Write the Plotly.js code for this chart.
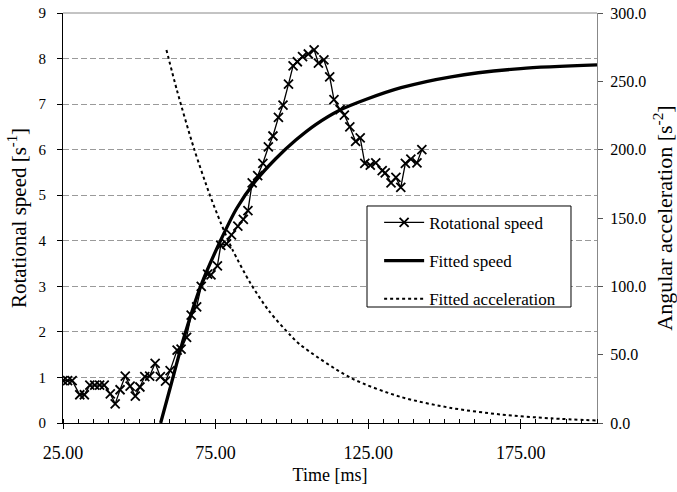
<!DOCTYPE html>
<html>
<head>
<meta charset="utf-8">
<script src="https://cdn.plot.ly/plotly-3.0.1.min.js"></script>
<style>
html,body{margin:0;padding:0;background:#fff;}
#chart{width:677px;height:492px;}
</style>
</head>
<body>
<div id="chart"></div>
<script>
// Measured rotational speed [s^-1] vs time [ms]
var speedTime = [25.0, 26.5, 28.0, 30.5, 32.0, 33.8, 35.4, 37.0, 38.5, 40.5, 42.1, 43.7, 45.4, 47.0, 48.7, 50.2, 51.8, 53.4, 55.2, 56.9, 58.6, 60.1, 62.4, 63.7, 65.5, 67.0, 68.8, 70.3, 72.4, 73.5, 75.6, 76.7, 78.6, 80.2, 82.3, 84.1, 85.6, 87.0, 88.8, 90.5, 92.3, 93.8, 95.6, 97.1, 98.9, 100.4, 101.8, 103.5, 105.4, 107.3, 108.7, 110.5, 112.4, 113.8, 115.8, 117.2, 119.0, 120.9, 122.4, 123.9, 125.7, 127.5, 129.6, 130.6, 132.5, 134.1, 135.7, 137.2, 139.0, 141.0, 142.6];
var speedValue = [0.93, 0.93, 0.93, 0.62, 0.62, 0.83, 0.83, 0.83, 0.83, 0.64, 0.42, 0.73, 1.03, 0.81, 0.59, 0.79, 1.02, 1.03, 1.31, 1.02, 0.92, 1.15, 1.6, 1.62, 1.88, 2.37, 2.55, 3.0, 3.27, 3.25, 3.45, 3.9, 3.93, 4.13, 4.32, 4.47, 4.66, 5.27, 5.43, 5.7, 6.06, 6.3, 6.71, 6.98, 7.44, 7.84, 7.93, 8.04, 8.1, 8.19, 7.9, 7.97, 7.6, 7.1, 6.88, 6.76, 6.5, 6.18, 6.26, 5.7, 5.66, 5.71, 5.54, 5.49, 5.27, 5.39, 5.17, 5.7, 5.79, 5.71, 6.0];

// Fitted speed [s^-1]
var fitTime = [57, 60, 64.6, 70.1, 76.6, 82, 88.1, 94.7, 101.3, 107.8, 115.5, 124.2, 135.8, 152.2, 175, 200];
var fitSpeed = [0, 0.74, 1.87, 3.0, 4.0, 4.72, 5.31, 5.8, 6.21, 6.55, 6.86, 7.1, 7.36, 7.6, 7.78, 7.86];

// Fitted angular acceleration [s^-2]
var accTime = [58.9, 62.4, 67.9, 73.1, 76.6, 80.5, 86.5, 92.5, 99.6, 102.9, 119.3, 135.8, 152.2, 168.6, 185, 200];
var accValue = [273, 243, 201, 167, 147, 127, 102, 82, 64, 57, 33, 19, 11, 6.2, 3.4, 1.8];

// Labels
var xTitle = 'Time [ms]';
var yTitle = 'Rotational speed [s<sup>-1</sup>]';
var y2Title = 'Angular acceleration [s<sup>-2</sup>]';
var seriesNames = ['Rotational speed', 'Fitted speed', 'Fitted acceleration'];

var FONT = '"Liberation Serif", "Times New Roman", serif';

var traces = [
  {
    x: speedTime, y: speedValue, name: seriesNames[0], type: 'scatter', mode: 'lines+markers',
    legendgroup: 'a',
    line: {color: '#000', width: 1.3},
    marker: {symbol: 'x-thin-open', size: 9, color: '#000', line: {color: '#000', width: 1.8}}
  },
  {
    x: fitTime, y: fitSpeed, name: seriesNames[1], type: 'scatter', mode: 'lines',
    legendgroup: 'b',
    line: {color: '#000', width: 3.3, shape: 'spline', smoothing: 0.8}
  },
  {
    x: accTime, y: accValue, name: seriesNames[2], type: 'scatter', mode: 'lines', yaxis: 'y2',
    legendgroup: 'c',
    line: {color: '#000', width: 2, dash: 'dot', shape: 'spline', smoothing: 0.8}
  }
];

var layout = {
  width: 677, height: 492,
  margin: {l: 63, r: 80, t: 13, b: 69},
  paper_bgcolor: '#fff', plot_bgcolor: '#fff',
  font: {family: FONT, color: '#000', size: 16},
  showlegend: true,
  legend: {
    x: 0.592, y: 0.532, xanchor: 'left', yanchor: 'top',
    bgcolor: 'rgba(0,0,0,0)', borderwidth: 0,
    font: {family: FONT, size: 17, color: '#000'},
    traceorder: 'grouped', tracegroupgap: 13, itemwidth: 40
  },
  shapes: [
    // legend frame
    {type: 'rect', xref: 'paper', yref: 'paper', x0: 0.5693, x1: 0.9513, y0: 0.2829, y1: 0.5293,
     fillcolor: '#fff', line: {color: '#000', width: 1}, layer: 'above'},
    // top border of plot area
    {type: 'line', xref: 'paper', yref: 'paper', x0: 0, x1: 1, y0: 1, y1: 1,
     line: {color: '#888', width: 1}, layer: 'above'}
  ],
  xaxis: {
    range: [25, 200], tick0: 25, dtick: 50, tickformat: '.2f',
    showgrid: false, zeroline: false,
    showline: true, linecolor: '#000', linewidth: 1,
    ticks: 'outside', ticklen: 5, tickcolor: '#000', tickwidth: 1,
    ticklabelstandoff: 8,
    tickfont: {family: FONT, size: 18, color: '#000'},
    minor: {ticks: 'inside', dtick: 5, tick0: 25, ticklen: 4, tickcolor: '#000', tickwidth: 1, showgrid: false},
    title: {text: xTitle, font: {family: FONT, size: 18, color: '#000'}, standoff: 6}
  },
  yaxis: {
    range: [0, 9], dtick: 1,
    showgrid: true, gridcolor: '#9a9a9a', griddash: '6px,3px', gridwidth: 1,
    zeroline: false,
    showline: true, linecolor: '#000', linewidth: 1,
    ticks: 'outside', ticklen: 5, tickcolor: '#000',
    ticklabelstandoff: 8,
    tickfont: {family: FONT, size: 15, color: '#000'},
    title: {text: yTitle, font: {family: FONT, size: 21, color: '#000'}, standoff: 6}
  },
  yaxis2: {
    range: [0, 300], dtick: 50, tickformat: '.1f',
    overlaying: 'y', side: 'right',
    showgrid: false, zeroline: false,
    showline: true, linecolor: '#888', linewidth: 1,
    ticks: 'outside', ticklen: 5, tickcolor: '#555',
    ticklabelstandoff: 4,
    tickfont: {family: FONT, size: 16, color: '#000'},
    title: {text: y2Title, font: {family: FONT, size: 22, color: '#000'}, standoff: 15}
  }
};

Plotly.newPlot('chart', traces, layout, {displayModeBar: false, staticPlot: true});
</script>
</body>
</html>
